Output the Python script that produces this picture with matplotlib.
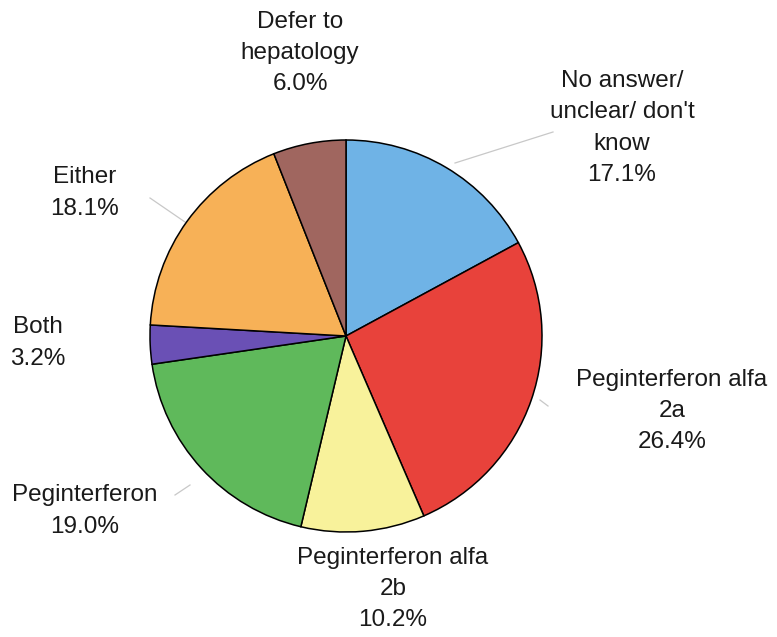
import matplotlib.pyplot as plt

# Data (clockwise from 12 o'clock)
categories = ["No answer/\nunclear/ don't\nknow", "Peginterferon alfa\n2a",
              "Peginterferon alfa\n2b", "Peginterferon", "Both", "Either",
              "Defer to\nhepatology"]
shares = [17.1, 26.4, 10.2, 19.0, 3.2, 18.1, 6.0]

colors = ['#6fb3e6', '#e8423b', '#f8f29b', '#5fb95b', '#6a50b5', '#f7b157', '#a0665f']

# label centres in pixel coordinates (x, y from top)
label_pos = [(622, 128), (672, 411), (393, 589), (85, 511),
             (38, 343), (85, 193), (300, 53)]
# faint leader lines (pixel coordinates)
leaders = [[(553, 132), (455, 163)], [(150, 198), (185, 222)],
           [(540, 400), (548, 406)], [(175, 495), (190, 485)]]

W, H = 777, 637
fig = plt.figure(figsize=(W / 100, H / 100), dpi=100)
ax = fig.add_axes([0, 0, 1, 1])
plt.rcParams['font.family'] = ['Liberation Sans', 'DejaVu Sans']

cx, cy, r = 346, 336, 196
ax.pie(shares, colors=colors, startangle=90, counterclock=False,
       center=(cx, H - cy), radius=r,
       wedgeprops=dict(edgecolor='black', linewidth=1.1))

for (x0, y0), (x1, y1) in leaders:
    ax.plot([x0, x1], [H - y0, H - y1], color='#c8c8c8', lw=0.9, zorder=0)

for name, val, (lx, ly) in zip(categories, shares, label_pos):
    ax.text(lx, H - ly, f'{name}\n{val:.1f}%', ha='center', va='center',
            fontsize=17.5, linespacing=1.55, color='#1a1a1a')

ax.set_xlim(0, W)
ax.set_ylim(0, H)
ax.set_aspect('equal')
ax.axis('off')

fig.savefig('out.png', dpi=100, facecolor='white')
